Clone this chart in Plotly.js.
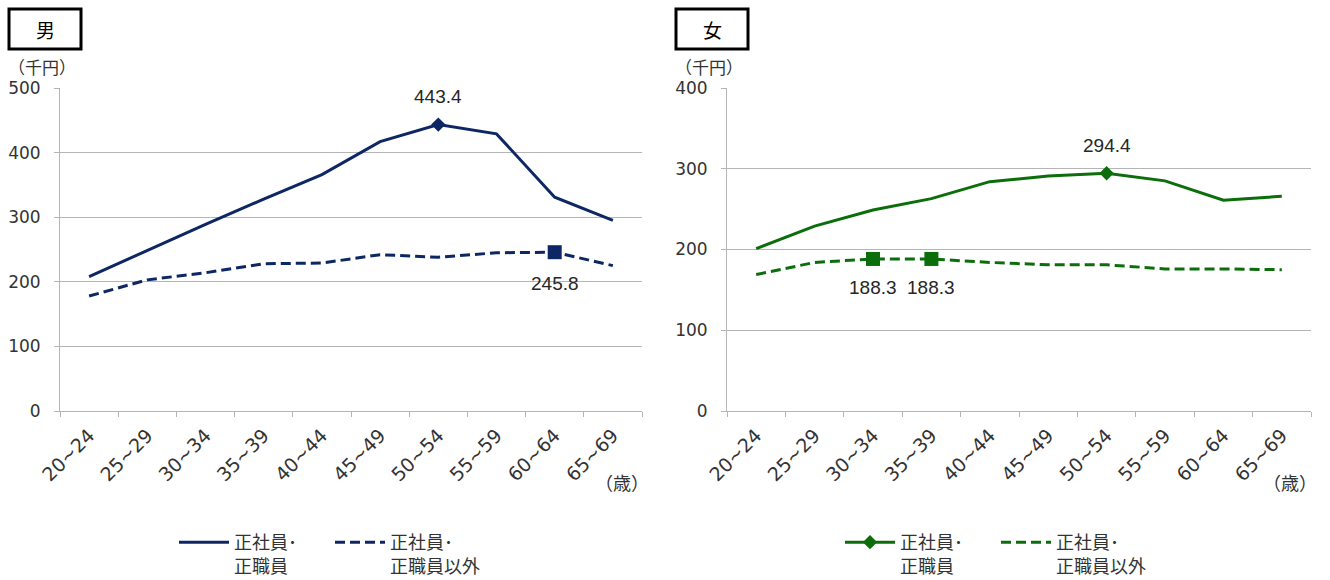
<!DOCTYPE html>
<html>
<head>
<meta charset="utf-8">
<script src="https://cdn.plot.ly/plotly-3.0.1.min.js"></script>
<style>
  html, body { margin: 0; padding: 0; background: #fff; }
  #chart { width: 1330px; height: 580px; }
</style>
</head>
<body>
<div id="chart"></div>
<script>
// Age groups (years)
const ageGroups = ['20~24', '25~29', '30~34', '35~39', '40~44', '45~49', '50~54', '55~59', '60~64', '65~69'];

// Monthly wages, thousand yen — men
const menRegular    = [208, 249, 289, 328, 366, 417, 443.4, 429, 331, 295];
const menNonRegular = [178, 203, 214, 228, 229, 242, 238, 245, 245.8, 225];

// Monthly wages, thousand yen — women
const womenRegular    = [201, 229, 249, 263, 284, 291, 294.4, 285, 261, 266];
const womenNonRegular = [169, 184, 188.3, 188.3, 184, 181, 181, 176, 176, 175];

// Points that carry a value label
const menRegularMarked      = [6];
const menNonRegularMarked   = [8];
const womenRegularMarked    = [6];
const womenNonRegularMarked = [2, 3];

const seriesNames = ['正社員･<br>正職員', '正社員･<br>正職員以外'];
const panelTitles = ['男', '女'];
const yUnit = '（千円）';
const xUnit = '（歳）';

const NAVY = '#0d2765';
const GREEN = '#0b6e0b';
const W = 1330, H = 580;

const pick = (arr, idx) => idx.map(i => arr[i]);

const traces = [
  {
    x: ageGroups, y: menRegular, name: seriesNames[0], type: 'scatter', mode: 'lines',
    line: {color: NAVY, width: 3}, xaxis: 'x', yaxis: 'y', legend: 'legend', hoverinfo: 'skip'
  },
  {
    x: ageGroups, y: menNonRegular, name: seriesNames[1], type: 'scatter', mode: 'lines',
    line: {color: NAVY, width: 3, dash: '10px,5px'}, xaxis: 'x', yaxis: 'y', legend: 'legend', hoverinfo: 'skip'
  },
  {
    x: pick(ageGroups, menRegularMarked), y: pick(menRegular, menRegularMarked),
    type: 'scatter', mode: 'markers', showlegend: false,
    marker: {symbol: 'diamond', size: 11, color: NAVY}, xaxis: 'x', yaxis: 'y', hoverinfo: 'skip'
  },
  {
    x: pick(ageGroups, menNonRegularMarked), y: pick(menNonRegular, menNonRegularMarked),
    type: 'scatter', mode: 'markers', showlegend: false,
    marker: {symbol: 'square', size: 14, color: NAVY}, xaxis: 'x', yaxis: 'y', hoverinfo: 'skip'
  },
  {
    x: ageGroups, y: womenRegular, name: seriesNames[0], type: 'scatter', mode: 'lines+markers',
    line: {color: GREEN, width: 3},
    marker: {symbol: 'diamond', size: 11, color: GREEN},
    selectedpoints: womenRegularMarked,
    selected: {marker: {opacity: 1}},
    unselected: {marker: {opacity: 0}},
    xaxis: 'x2', yaxis: 'y2', legend: 'legend2', hoverinfo: 'skip'
  },
  {
    x: ageGroups, y: womenNonRegular, name: seriesNames[1], type: 'scatter', mode: 'lines',
    line: {color: GREEN, width: 3, dash: '10px,5px'}, xaxis: 'x2', yaxis: 'y2', legend: 'legend2', hoverinfo: 'skip'
  },
  {
    x: pick(ageGroups, womenNonRegularMarked), y: pick(womenNonRegular, womenNonRegularMarked),
    type: 'scatter', mode: 'markers', showlegend: false,
    marker: {symbol: 'square', size: 14, color: GREEN}, xaxis: 'x2', yaxis: 'y2', hoverinfo: 'skip'
  }
];

// Value labels, placed above or below their points
const labelFont = {family: '"Liberation Sans Narrow", "Arial Narrow", sans-serif', size: 19, color: '#262626'};
function valueLabels(values, idx, xref, yref, shift) {
  return idx.map(i => ({
    x: ageGroups[i], y: values[i], xref: xref, yref: yref,
    text: values[i].toFixed(1), showarrow: false, yshift: shift,
    font: labelFont
  }));
}

const yTickFont = {family: '"DejaVu Sans", Verdana, sans-serif', size: 17, color: '#333'};
const xTickFont = {family: '"DejaVu Sans", Verdana, sans-serif', size: 19, color: '#333'};
const jpFont = {family: '"Noto Sans CJK JP", sans-serif', size: 17, color: '#333'};

function xAxis(domain, anchor) {
  return {
    domain: domain, anchor: anchor, type: 'category', range: [-0.5, ageGroups.length - 0.5],
    showgrid: false, showline: true, linecolor: '#b5b5b5', linewidth: 1,
    ticks: 'outside', tickson: 'boundaries', ticklen: 5, tickcolor: '#b5b5b5',
    ticklabelstandoff: 5,
    tickangle: -45, tickfont: xTickFont, fixedrange: true
  };
}
function yAxis(domain, anchor, max) {
  return {
    domain: domain, anchor: anchor, range: [0, max], dtick: 100,
    showgrid: true, gridcolor: '#b5b5b5', gridwidth: 1,
    zeroline: false, showline: true, linecolor: '#b5b5b5', linewidth: 1,
    ticks: 'outside', ticklen: 5, tickcolor: '#b5b5b5',
    ticklabelstandoff: 10, tickfont: yTickFont, fixedrange: true
  };
}

const yDom = [1 - 411 / H, 1 - 88 / H];
const leftDom = [60 / W, 642 / W];
const rightDom = [727 / W, 1311 / W];

function titleBox(x0, x1, label) {
  return {
    shape: {type: 'rect', xref: 'paper', yref: 'paper',
      x0: x0 / W, x1: x1 / W, y0: 1 - 49 / H, y1: 1 - 9 / H,
      line: {color: '#000', width: 3}, fillcolor: '#fff'},
    annotation: {xref: 'paper', yref: 'paper', x: (x0 + x1) / 2 / W, y: 1 - 29 / H,
      xanchor: 'center', yanchor: 'middle', showarrow: false, text: label,
      font: {family: '"Noto Sans CJK JP", sans-serif', size: 19, color: '#000'}}
  };
}
const boxL = titleBox(9, 81, panelTitles[0]);
const boxR = titleBox(676, 748, panelTitles[1]);

const annotations = [
  boxL.annotation, boxR.annotation,
  {xref: 'paper', yref: 'paper', x: 6 / W, y: 1 - 67 / H, xanchor: 'left', yanchor: 'middle',
   showarrow: false, text: yUnit, font: jpFont},
  {xref: 'paper', yref: 'paper', x: 673 / W, y: 1 - 67 / H, xanchor: 'left', yanchor: 'middle',
   showarrow: false, text: yUnit, font: jpFont},
  {xref: 'paper', yref: 'paper', x: 651 / W, y: 1 - 482 / H, xanchor: 'right', yanchor: 'middle',
   showarrow: false, text: xUnit, font: {...jpFont, size: 18}},
  {xref: 'paper', yref: 'paper', x: 1319 / W, y: 1 - 482 / H, xanchor: 'right', yanchor: 'middle',
   showarrow: false, text: xUnit, font: {...jpFont, size: 18}},
  ...valueLabels(menRegular, menRegularMarked, 'x', 'y', 28),
  ...valueLabels(menNonRegular, menNonRegularMarked, 'x', 'y', -31),
  ...valueLabels(womenRegular, womenRegularMarked, 'x2', 'y2', 28),
  ...valueLabels(womenNonRegular, womenNonRegularMarked, 'x2', 'y2', -29)
];

const legendFont = {family: '"Noto Sans CJK JP", sans-serif', size: 18, color: '#333'};
function legendAt(x) {
  return {
    x: x / W, xanchor: 'left', y: 1 - 524 / H, yanchor: 'top',
    orientation: 'h', valign: 'top', font: legendFont,
    itemwidth: 50, entrywidth: 91, entrywidthmode: 'pixels',
    bgcolor: 'rgba(0,0,0,0)', borderwidth: 0, itemclick: false, itemdoubleclick: false
  };
}

const layout = {
  width: W, height: H,
  margin: {l: 0, r: 0, t: 0, b: 0, autoexpand: false},
  paper_bgcolor: '#fff', plot_bgcolor: '#fff',
  showlegend: true,
  xaxis: xAxis(leftDom, 'y'),
  yaxis: yAxis(yDom, 'x', 500),
  xaxis2: xAxis(rightDom, 'y2'),
  yaxis2: yAxis(yDom, 'x2', 400),
  legend: legendAt(174),
  legend2: legendAt(840),
  shapes: [boxL.shape, boxR.shape],
  annotations: annotations
};

Plotly.newPlot('chart', traces, layout, {displayModeBar: false, staticPlot: true});
</script>
</body>
</html>
